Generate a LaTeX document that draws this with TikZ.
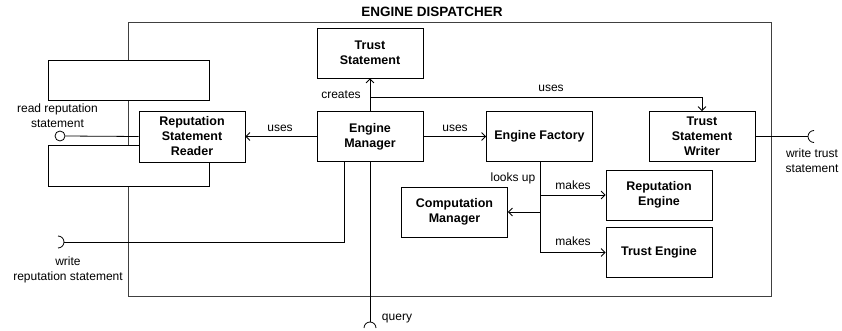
\documentclass[tikz,border=0pt]{standalone}
\usepackage{fontspec}
\setmainfont{Liberation Sans}
\usetikzlibrary{arrows.meta,calc}

\tikzset{
  comp/.style={draw=black, fill=white, line width=0.8pt, rectangle,
    minimum width=106pt, minimum height=50pt, align=center, inner sep=2pt,
    font=\fontsize{12.5}{15}\selectfont\bfseries},
  lbl/.style={font=\fontsize{12}{15}\selectfont, inner sep=0pt, align=center},
  conn/.style={draw=black, line width=0.8pt},
  dep/.style={conn, -{Straight Barb[length=4pt,width=8pt,line width=0.8pt]}},
}

\begin{document}
\begin{tikzpicture}[x=1pt, y=-1pt]
  \useasboundingbox (0,0) rectangle (842,331);

  % enclosing component
  \draw[draw=black!75, line width=0.9pt] (128,22) rectangle (771,296);
  \node[font=\fontsize{13.5}{15}\selectfont\bfseries, inner sep=0pt] (title) at (432,12) {ENGINE DISPATCHER};

  % component icon tabs on the left border
  \draw[fill=white, line width=0.8pt] (48,60) rectangle (209,100);
  \draw[fill=white, line width=0.8pt] (48,145) rectangle (209,186);

  % inner components
  \node[comp, minimum height=51pt] (rsr) at (192,136.5) {Reputation\\Statement\\Reader};
  \node[comp] (em)  at (370,136.5) {Engine\\Manager};
  \node[comp] (ts)  at (370,53)    {Trust\\Statement};
  \node[comp] (ef)  at (539.5,136.5) {Engine Factory};
  \node[comp] (tsw) at (702,136.5) {Trust\\Statement\\Writer};
  \node[comp] (re)  at (659,195)   {Reputation\\Engine};
  \node[comp] (te)  at (659,252.5) {Trust Engine};
  \node[comp] (cm)  at (454.5,212) {Computation\\Manager};

  % dependencies
  \draw[dep] (em.north) -- (ts.south);
  \node[lbl] (lcreates) at (341,95) {creates};
  \coordinate (split) at (370,97);
  \draw[dep] (split) -| (tsw.north);
  \node[lbl] (lusestw) at (551,88) {uses};

  \draw[dep] (em.west) -- (rsr.east);
  \node[lbl] (lusesrsr) at (280,128) {uses};
  \draw[dep] (em.east) -- (ef.west);
  \node[lbl] (lusesef) at (455,128) {uses};

  \coordinate (efs) at (540,161.5);
  \draw[dep] (efs) |- (te.west);
  \draw[dep] (efs |- re.west) -- (re.west);
  \draw[dep] (efs |- cm.east) -- (cm.east);
  \node[lbl] (lmakes1) at (573,185) {makes};
  \node[lbl] (lmakes2) at (573,241) {makes};
  \node[lbl] (llooks)  at (513,178) {looks up};

  % provided interface: read reputation statement
  \node[circle, draw=black, fill=white, line width=0.8pt, minimum size=10pt, inner sep=0pt] (rd) at (60,136) {};
  \draw[conn] (rsr.west) -- (rd.east);
  \node[lbl] (lread) at (57.5,115.5) {read reputation\\statement};

  % required interface: write trust statement
  \coordinate (wts) at (808,136.5);
  \draw[conn] (tsw.east) -- (wts);
  \draw[conn] (814,142.5) arc[start angle=90, end angle=270, radius=6];
  \node[lbl] (lwts) at (812,161) {write trust\\statement};

  % required interface: write reputation statement
  \coordinate (emw) at (344,161.5);
  \coordinate (wrs) at (64,242);
  \draw[conn] (emw) |- (wrs);
  \draw[conn] (58,236) arc[start angle=-90, end angle=90, radius=6];
  \node[lbl] (lwrs) at (68,269.5) {write\\reputation statement};

  % required interface: query
  \coordinate (qy) at (370,322);
  \draw[conn] (em.south) -- (qy);
  \draw[conn] (364,328) arc[start angle=180, end angle=360, radius=6];
  \node[lbl] (lquery) at (397,319) {query};
\end{tikzpicture}
\end{document}
